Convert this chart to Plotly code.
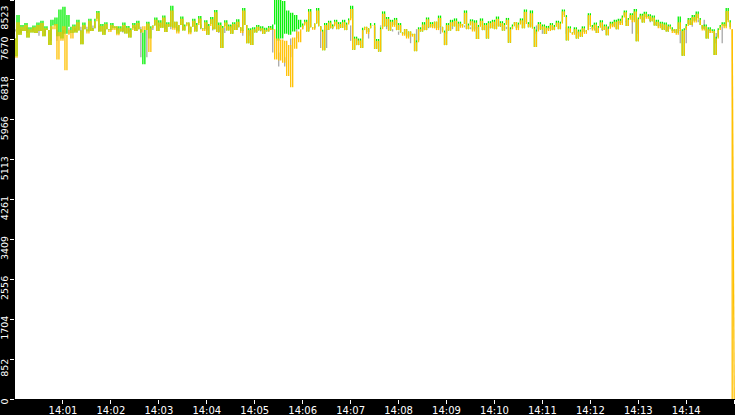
import pandas as pd
import plotly.graph_objects as go

# samples every 2.5 s from 14:00:00 (orange has a last 0 sample at 14:15:00)
start = "2023-01-01 14:00:00"

orange_vals = [
    7700, 7290, 8050, 7780, 7950, 7860, 7990, 7720, 7900, 7830,
    7940, 7820, 7990, 7860, 8030, 7750, 7920, 7880, 7560, 7960,
    7900, 8010, 7250, 7840, 7650, 7960, 7020, 7780, 7880, 7700,
    7960, 7830, 8050, 7870, 7580, 7990, 7900, 7810, 8080, 7860,
    7920, 8070, 8250, 7850, 7970, 7780, 8010, 7900, 7840, 7990,
    7880, 7960, 7770, 7920, 7850, 7990, 7810, 7930, 7720, 7880,
    7990, 7860, 8030, 7900, 7830, 7960, 7880, 8020, 7410, 7920,
    7980, 8100, 7860, 8040, 7930, 8150, 7840, 8010, 7950, 8300,
    7890, 8060, 7810, 7990, 8120, 7870, 7960, 8040, 7790, 7950,
    8080, 7850, 7990, 8130, 7920, 7860, 8050, 7780, 7970, 8110,
    7900, 8260, 7840, 7990, 7500, 7930, 8040, 7870, 7960, 7800,
    8010, 7880, 8060, 7940, 7820, 8300, 7990, 7600, 7880, 7560,
    7900, 7830, 7950, 7870, 7920, 7800, 7890, 7850, 7930, 7880,
    7900, 7250, 7700, 7230, 7680, 7180, 7650, 6900, 7560, 6660,
    7720, 7480, 7850, 7620, 7900, 7980, 8060, 7850, 8280, 7940,
    7890, 8020, 8300, 7960, 7850, 7450, 7990, 7880, 8040, 7920,
    7960, 8060, 7900, 8010, 7930, 8050, 7880, 8000, 8090, 8330,
    7460, 7700, 7560, 7660, 7500, 7880, 7950, 7800, 7920, 7980,
    7990, 7480, 7650, 7420, 7900, 8230, 7960, 8120, 7870, 8060,
    7950, 8100, 7880, 7990, 7830, 7760, 7900, 7700, 7850, 7740,
    7800, 7430, 7620, 7900, 7850, 8000, 7880, 8110, 7940, 8010,
    7920, 8060, 7880, 8140, 7950, 7830, 7560, 7990, 7870, 8050,
    7960, 8080, 7860, 8020, 7930, 8010, 8250, 7900, 7980, 8070,
    7850, 8040, 7690, 7950, 8080, 7880, 7990, 7700, 8030, 7920,
    8060, 7900, 8120, 7960, 8030, 7870, 7990, 8100, 7610, 7900,
    7960, 8050, 7880, 8000, 8090, 7920, 8270, 8010, 7940, 8240,
    7910, 7520, 7850, 8010, 7890, 7960, 7800, 7930, 7860, 7990,
    7880, 7950, 8040, 7900, 8020, 8280, 8160, 7660, 7920, 7830,
    7780, 7900, 7700, 7850, 7740, 7920, 7800, 7880, 8200, 7950,
    7870, 8000, 7820, 7930, 8050, 7880, 7960, 7770, 7910, 8020,
    7940, 8060, 7900, 8080, 7990, 8150, 8260, 7970, 8100, 8200,
    8050, 8280, 7640, 8110, 8190, 8040, 8230, 8120, 8180, 8070,
    8150, 7980, 8060, 7920, 8020, 7890, 8000, 7850, 7960, 7900,
    7820, 7900, 7780, 8050, 7860, 7330, 7880, 7970, 8100, 7990,
    8160, 8040, 8230, 8100, 7990, 7870, 7960, 7700, 7900, 7820,
    7860, 7350, 7700, 7880, 7950, 8010, 7920, 8290, 8050, 7900,
    0,
]

green_vals = [
    7700, 7320, 8200, 7780, 7990, 7860, 8030, 7720, 7940, 7830,
    7980, 7820, 8040, 7860, 8080, 7750, 7960, 7880, 7560, 8100,
    7980, 8150, 7750, 8320, 7700, 8380, 7800, 8200, 7950, 7820,
    8000, 7830, 8100, 7870, 7580, 8040, 7900, 7850, 8120, 7860,
    7920, 8120, 8290, 7850, 8010, 7780, 8050, 7900, 7880, 8030,
    7920, 7960, 7800, 7960, 7850, 8040, 7810, 7970, 7720, 7920,
    8030, 7860, 8080, 7900, 7830, 7150, 7880, 8060, 7700, 7960,
    7980, 8150, 7860, 8090, 7930, 8190, 7840, 8050, 7950, 8400,
    7930, 8060, 7850, 7990, 8170, 7870, 8000, 8040, 7830, 7950,
    8120, 7850, 8030, 8180, 7920, 7900, 8090, 7780, 8010, 8160,
    7900, 8310, 7840, 8040, 7500, 7970, 8090, 7870, 8000, 7800,
    8050, 7880, 8110, 7940, 7860, 8350, 7990, 7600, 7920, 7560,
    7940, 7830, 7990, 7870, 7960, 7800, 7930, 7850, 7970, 7880,
    8000, 8750, 7650, 8800, 7700, 8500, 7800, 8300, 7780, 8250,
    7850, 8200, 7900, 8100, 7940, 8020, 8100, 7850, 8330, 7940,
    7930, 8020, 8350, 7960, 7890, 7450, 8030, 7880, 8080, 7920,
    8000, 8100, 7900, 8050, 7930, 8100, 7880, 8040, 8130, 8400,
    7460, 7740, 7560, 7700, 7500, 7930, 7950, 7840, 7920, 8030,
    8030, 7480, 7690, 7420, 7940, 8280, 7960, 8160, 7870, 8100,
    7990, 8140, 7880, 8030, 7830, 7800, 7900, 7740, 7850, 7780,
    7800, 7430, 7660, 7940, 7850, 8050, 7880, 8150, 7940, 8050,
    7960, 8060, 7920, 8190, 7950, 7870, 7560, 8030, 7870, 8100,
    7960, 8130, 7860, 8060, 7970, 8010, 8300, 7900, 8020, 8110,
    7890, 8090, 7690, 7990, 8130, 7880, 8030, 7700, 8070, 7920,
    8100, 7900, 8170, 7960, 8070, 7870, 8030, 8140, 7610, 7940,
    8000, 8050, 7920, 8040, 8130, 7920, 8320, 8050, 7940, 8300,
    7950, 7520, 7890, 8050, 7890, 8000, 7800, 7970, 7900, 8030,
    7880, 7990, 8080, 7900, 8060, 8320, 8200, 7660, 7960, 7830,
    7820, 7940, 7700, 7890, 7740, 7960, 7840, 7880, 8240, 7990,
    7910, 8040, 7820, 7970, 8090, 7880, 8000, 7770, 7950, 8060,
    7980, 8100, 7900, 8120, 8030, 8190, 8300, 7970, 8140, 8240,
    8090, 8330, 7640, 8150, 8230, 8040, 8270, 8160, 8220, 8070,
    8190, 7980, 8100, 7960, 8060, 7890, 8040, 7850, 8000, 7940,
    7860, 7900, 7820, 8170, 7900, 7330, 7920, 8010, 8140, 7990,
    8200, 8080, 8280, 8140, 7990, 7910, 8000, 7700, 7940, 7860,
    7900, 7350, 7740, 7920, 7990, 8050, 7960, 8350, 8090, 7940,
]

# gray series sampled every 7.5 s
gray_vals = [
    7850, 7900, 7820, 7940, 7870, 7760, 7900, 7650, 7880, 7800,
    7920, 7860, 7950, 7900, 7980, 7850, 7900, 7870, 7940, 7830,
    7900, 7950, 7300, 7880, 7960, 8000, 7900, 7950, 7880, 8010,
    7960, 7900, 8000, 7870, 7950, 7820, 7930, 7990, 7880, 7760,
    7880, 7850, 7900, 7880, 7400, 7100, 7300, 7700, 7900, 7950,
    7900, 7960, 7500, 7900, 8000, 7950, 7980, 7650, 7700, 7900,
    7700, 7950, 7980, 7900, 7850, 7780, 7800, 7600, 7900, 7950,
    7920, 7960, 7800, 7900, 7960, 7980, 7940, 7900, 7950, 7880,
    7960, 8000, 7950, 7900, 7950, 8000, 8050, 7980, 7800, 7880,
    7900, 7960, 7950, 7800, 7820, 7850, 7900, 7920, 7860, 7900,
    7960, 8000, 8050, 8080, 7800, 8100, 8150, 8050, 7980, 7950,
    7850, 7880, 7600, 7950, 8050, 8100, 7900, 7820, 7600, 7950,
]

y_ticks = [0, 852.3, 1704.6, 2556.9, 3409.2, 4261.5, 5113.8, 5966.1, 6818.4, 7670.7, 8523]
y_labels = ["0", "852", "1704", "2556", "3409", "4261", "5113", "5966", "6818", "7670", "8523"]

x_ticks = ["2023-01-01 14:%02d:00" % m for m in range(1, 16)]
x_labels = ["14:01", "14:02", "14:03", "14:04", "14:05", "14:06", "14:07", "14:08",
            "14:09", "14:10", "14:11", "14:12", "14:13", "14:14", "14:15"]


def columns(times, vals):
    # one vertical stroke per sample, spanning to the next sample's value
    xs, ys = [], []
    for i in range(len(vals) - 1):
        xs += [times[i], times[i], None]
        ys += [vals[i], vals[i + 1], None]
    return xs, ys


t_orange = pd.date_range(start, periods=len(orange_vals), freq="2500ms")
t_green = pd.date_range(start, periods=len(green_vals), freq="2500ms")
t_gray = pd.date_range(start, periods=len(gray_vals), freq="7500ms")

fig = go.Figure()
for t, v, c in [(t_gray, gray_vals, "#a8a8a8"),
                (t_green, green_vals, "#00f000"),
                (t_orange, orange_vals, "#ffc000")]:
    xs, ys = columns(list(t), v)
    fig.add_trace(go.Scatter(x=xs, y=ys, mode="lines", connectgaps=False,
                             line=dict(color=c, width=1.3), hoverinfo="skip"))

# last orange sample drops to 0 at the right edge
fig.add_trace(go.Scatter(x=[t_orange[-2], t_orange[-1]], y=orange_vals[-2:],
                         mode="lines", line=dict(color="#ffc000", width=1.3),
                         hoverinfo="skip"))
# empty traces so the extra label axes get drawn
fig.add_trace(go.Scatter(x=[None], y=[None], yaxis="y2", hoverinfo="skip"))
fig.add_trace(go.Scatter(x=[None], y=[None], yaxis="y3", hoverinfo="skip"))

fig.update_layout(
    width=735, height=415,
    margin=dict(l=15, r=0, t=0, b=16, pad=0),
    paper_bgcolor="black", plot_bgcolor="white",
    showlegend=False,
    font=dict(family="DejaVu Sans", size=10, color="white"),
)
fig.update_xaxes(range=["2023-01-01 14:00:00", "2023-01-01 14:15:01"],
                 tickvals=x_ticks, ticktext=x_labels,
                 showgrid=False, zeroline=False,
                 ticks="outside", ticklen=4, tickcolor="white", tickwidth=1,
                 ticklabelstandoff=-2, showline=False, automargin=False)

yax = dict(range=[0, 8523], tickangle=-90, showgrid=False, zeroline=False,
           ticks="outside", ticklen=4, tickcolor="white", tickwidth=1,
           tickfont=dict(size=9.5), ticklabelstandoff=-2, showline=False,
           automargin=False)
fig.update_layout(
    yaxis=dict(yax, tickvals=y_ticks[1:-1], ticktext=y_labels[1:-1], ticklabelshift=10),
    yaxis2=dict(yax, overlaying="y", side="left", tickvals=y_ticks[-1:],
                ticktext=y_labels[-1:], ticklabelshift=19),
    yaxis3=dict(yax, overlaying="y", side="left", tickvals=y_ticks[:1],
                ticktext=y_labels[:1], ticklabelshift=4),
)

fig.write_html("out.html", config={"displayModeBar": False},
               post_script="document.body.style.margin='0px';")
